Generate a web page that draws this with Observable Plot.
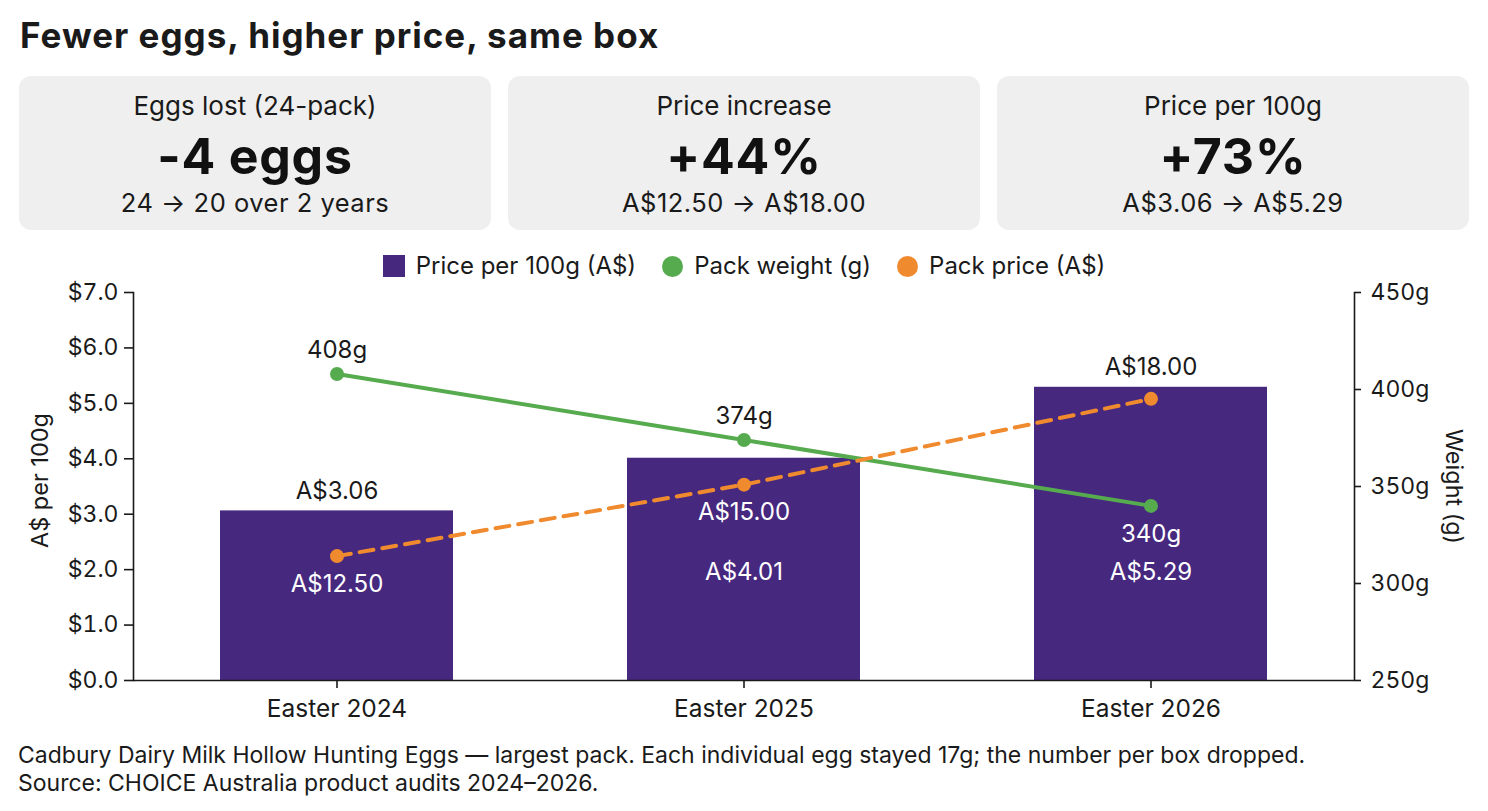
<!DOCTYPE html>
<html>
<head>
<meta charset="utf-8">
<script src="https://cdn.jsdelivr.net/npm/d3@7"></script>
<script src="https://cdn.jsdelivr.net/npm/@observablehq/plot@0.6"></script>
<style>
  html, body { margin: 0; padding: 0; overflow: hidden; background: #fff; }
  body { width: 1488px; height: 811px; position: relative; font-family: Inter, "Noto Sans", sans-serif; color: #1a1a1a; }
  .abs { position: absolute; white-space: nowrap; line-height: 1; }
  .card { position: absolute; top: 76px; width: 472px; height: 154px; background: #efefef; border-radius: 12px; }
  .card div { position: absolute; left: 0; right: 0; text-align: center; line-height: 1; white-space: nowrap; }
  .card .lab { top: 17px; font-size: 26px; }
  .card .val { top: 55px; font-size: 50px; font-weight: 700; color: #111; letter-spacing: 0.8px; }
  .card .sub { top: 114px; font-size: 25.5px; letter-spacing: 0.5px; }
  #legend { position: absolute; left: 0; width: 1488px; top: 254px; display: flex; justify-content: center; align-items: center; font-size: 24px; line-height: 24px; }
  #legend .item { display: flex; align-items: center; margin: 0 13px; }
  #legend .sw { width: 22px; height: 22px; margin-right: 11px; }
  #legend .dot { width: 21px; height: 21px; border-radius: 50%; margin-right: 11px; }
  #chart { position: absolute; left: 0; top: 280px; }
  #caption { position: absolute; left: 18px; top: 741px; font-size: 23px; line-height: 28px; white-space: nowrap; }
</style>
</head>
<body>
<div class="abs" style="left:20px;top:18px;font-size:35px;font-weight:700;letter-spacing:1px;">Fewer eggs, higher price, same box</div>
<div id="cards"></div>
<div id="legend"></div>
<div id="chart"></div>
<div id="caption"></div>
<script>
// ---- data ----
const years = ["Easter 2024", "Easter 2025", "Easter 2026"];
const pricePer100g = [3.06, 4.01, 5.29];
const packWeight = [408, 374, 340];
const packPrice = [12.50, 15.00, 18.00];
const leftTicks = [0, 1, 2, 3, 4, 5, 6, 7];
const rightTicks = [250, 300, 350, 400, 450];
const kpiLabels = ["Eggs lost (24-pack)", "Price increase", "Price per 100g"];
const kpiValues = ["-4 eggs", "+44%", "+73%"];
const kpiSubs = ["24 → 20 over 2 years", "A$12.50 → A$18.00", "A$3.06 → A$5.29"];
const legendLabels = ["Price per 100g (A$)", "Pack weight (g)", "Pack price (A$)"];
const captionLines = [
  "Cadbury Dairy Milk Hollow Hunting Eggs — largest pack. Each individual egg stayed 17g; the number per box dropped.",
  "Source: CHOICE Australia product audits 2024–2026."
];

// ---- style ----
const purple = "#46287f", green = "#57ab4f", orange = "#f08a2f", ink = "#1a1a1a";

// cards
const cardsEl = document.getElementById("cards");
kpiLabels.forEach((lab, i) => {
  const c = document.createElement("div");
  c.className = "card";
  c.style.left = (19 + i * 489) + "px";
  c.innerHTML = `<div class="lab">${lab}</div><div class="val">${kpiValues[i]}</div><div class="sub">${kpiSubs[i]}</div>`;
  cardsEl.appendChild(c);
});

// legend
const legendEl = document.getElementById("legend");
const swatches = [["sw", purple], ["dot", green], ["dot", orange]];
legendLabels.forEach((lab, i) => {
  const it = document.createElement("div");
  it.className = "item";
  it.innerHTML = `<span class="${swatches[i][0]}" style="background:${swatches[i][1]}"></span><span>${lab}</span>`;
  legendEl.appendChild(it);
});

// caption
document.getElementById("caption").innerHTML = captionLines.join("<br>");

// ---- chart ----
const W = 1488, H = 445, mT = 12, mB = 45, mL = 133, mR = 134;
const yMax = 7;
const u = yMax / (H - mT - mB);                            // data units per pixel
const wScale = d3.scaleLinear([250, 450], [0, yMax]);      // weight -> left units
const pScale = d3.scaleLinear([8.15, 21.72], [0, yMax]);   // pack price -> left units (hidden axis)

const aboveGap = 24, belowGap = 28, barGap = 20, insideLevel = 1.95;
// label position (data units) for a line point: above if it is the upper series, else below
function labelPos(v, other, bar) {
  if (v > other) {
    let y = v + aboveGap * u;
    if (v < bar && y - bar < barGap * u) y = bar + barGap * u;   // clear the bar top
    return y;
  }
  return v - belowGap * u;
}
const rows = years.map((year, i) => {
  const per100 = pricePer100g[i];
  const wy = wScale(packWeight[i]);
  const py = pScale(packPrice[i]);
  const wl = labelPos(wy, py, per100);
  const pl = labelPos(py, wy, per100);
  const lowerLabel = Math.min(wl, pl);
  const barAbove = Math.abs(lowerLabel - insideLevel) < 0.5;
  return {
    year, per100, weight: packWeight[i], price: packPrice[i], wy, py, wl, pl,
    bl: barAbove ? per100 + barGap * u : insideLevel, barAbove
  };
});
const fillAt = (y, d) => (y < d.per100 ? "white" : ink);
const lbl = 24;

const chart = Plot.plot({
  width: W, height: H,
  marginTop: mT, marginBottom: mB, marginLeft: mL, marginRight: mR,
  style: { fontFamily: "Inter, 'Noto Sans', sans-serif", fontSize: "23px", color: ink, background: "transparent", overflow: "visible" },
  x: { domain: years, paddingInner: 0.4275, paddingOuter: 0.21375, label: null },
  y: { domain: [0, yMax], label: null },
  marks: [
    Plot.barY(rows, { x: "year", y: "per100", fill: purple }),
    Plot.ruleY([0], { stroke: ink, strokeWidth: 1.6 }),
    Plot.frame({ anchor: "left", stroke: ink, strokeWidth: 1.6 }),
    Plot.frame({ anchor: "right", stroke: ink, strokeWidth: 1.6 }),
    Plot.axisX({ tickSize: 8, tickPadding: 11, fontSize: 24.5, label: null, stroke: ink, strokeWidth: 1.6 }),
    Plot.axisY({ ticks: leftTicks, tickFormat: d => "$" + d.toFixed(1), tickSize: 9, tickPadding: 6, label: null, strokeWidth: 1.6 }),
    Plot.axisY({ anchor: "right", ticks: rightTicks.map(wScale), tickFormat: d => Math.round(wScale.invert(d)) + "g", tickSize: 6, tickPadding: 10, label: null, strokeWidth: 1.6 }),
    Plot.text(["A$ per 100g"], { frameAnchor: "left", textAnchor: "middle", dx: -93, dy: -6, rotate: -90, fontSize: 23.5, fill: ink }),
    Plot.text(["Weight (g)"], { frameAnchor: "right", textAnchor: "middle", dx: 99, rotate: 90, fontSize: 23.5, fill: ink }),
    // lines
    Plot.line(rows, { x: "year", y: "wy", stroke: green, strokeWidth: 4 }),
    Plot.line(rows, { x: "year", y: "py", stroke: orange, strokeWidth: 4, strokeDasharray: "14,9" }),
    Plot.dot(rows, { x: "year", y: "wy", r: 7, fill: green }),
    Plot.dot(rows, { x: "year", y: "py", r: 7, fill: orange }),
    // labels
    Plot.text(rows, { x: "year", y: "wl", text: d => d.weight + "g", fontSize: lbl, fill: d => fillAt(d.wl, d) }),
    Plot.text(rows, { x: "year", y: "pl", text: d => "A$" + d.price.toFixed(2), fontSize: lbl, fill: d => fillAt(d.pl, d) }),
    Plot.text(rows, { x: "year", y: "bl", text: d => "A$" + d.per100.toFixed(2), fontSize: lbl, fill: d => fillAt(d.bl, d) })
  ]
});
document.getElementById("chart").appendChild(chart);
</script>
</body>
</html>
